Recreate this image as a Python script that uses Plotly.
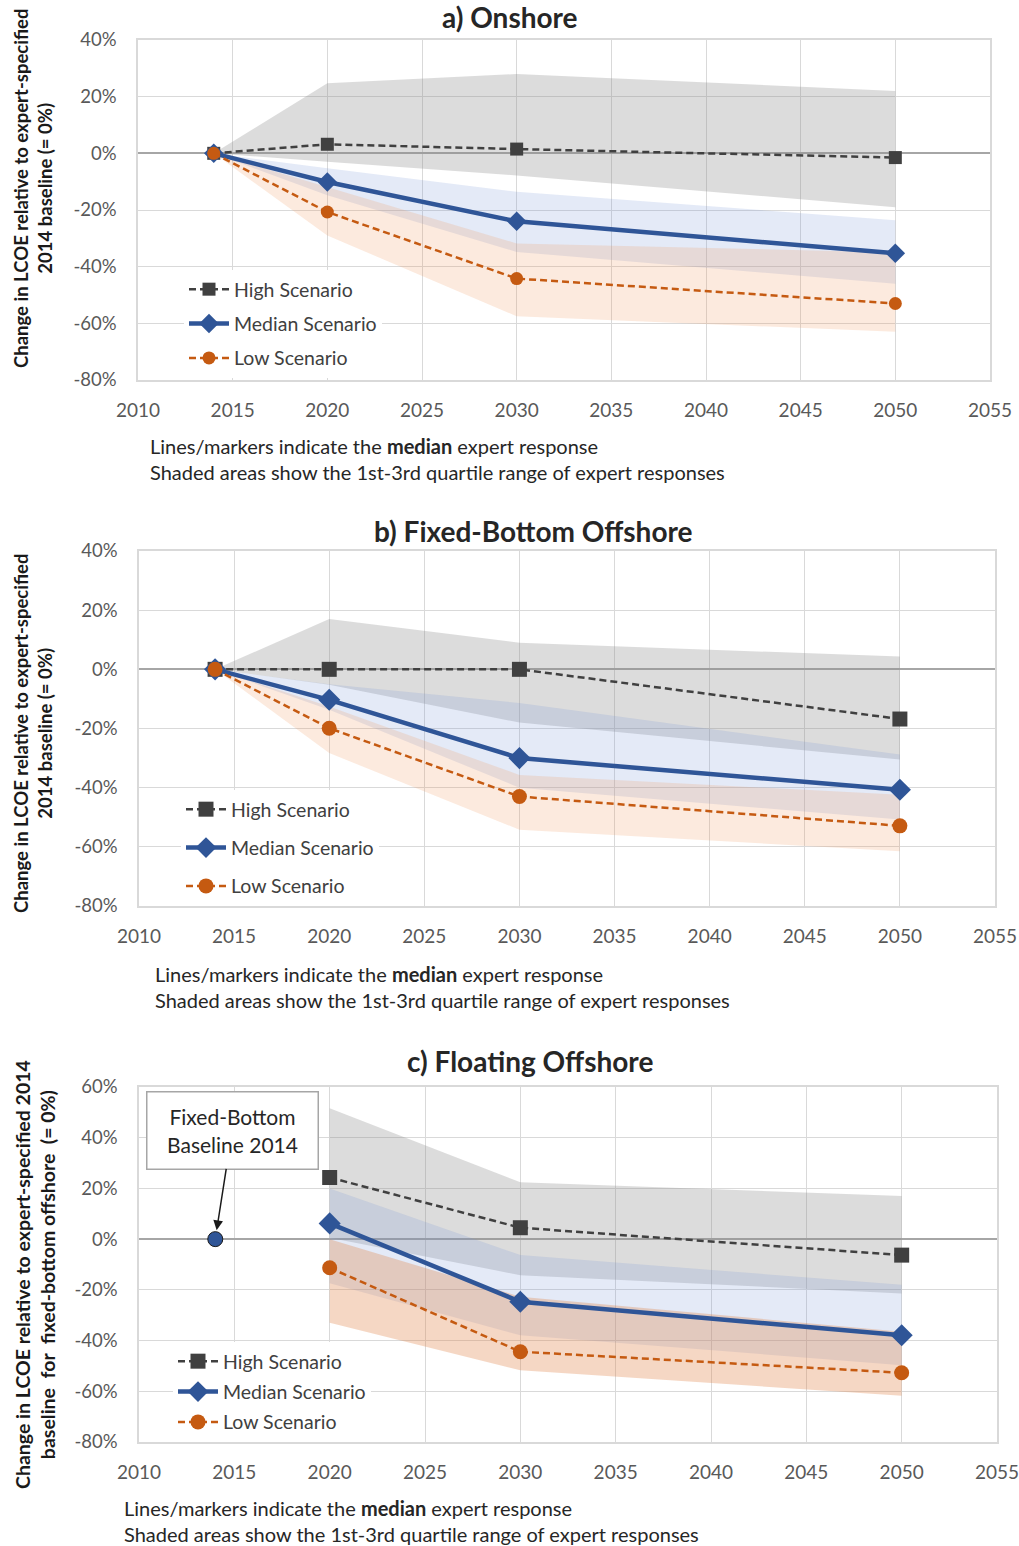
import plotly.graph_objects as go

# ---------------- data ----------------
years = [2014, 2020, 2030, 2050]
years_c = [2020, 2030, 2050]

# a) Onshore
a_high = [0, 3.2, 1.5, -1.5]
a_high_q3 = [0, 24.7, 28.0, 22.0]
a_high_q1 = [0, -3.0, -7.8, -19.0]
a_med = [0, -10.1, -24.0, -35.3]
a_med_q3 = [0, -5.3, -13.6, -23.6]
a_med_q1 = [0, -14.8, -34.8, -46.0]
a_low = [0, -20.7, -44.2, -53.0]
a_low_q3 = [0, -11.9, -31.8, -35.0]
a_low_q1 = [0, -29.0, -57.5, -63.0]

# b) Fixed-Bottom Offshore
b_high = [0, 0, 0, -16.8]
b_high_q3 = [0, 17.0, 9.0, 4.3]
b_high_q1 = [0, -5.2, -18.0, -30.5]
b_med = [0, -10.3, -30.0, -40.7]
b_med_q3 = [0, -5.0, -11.4, -28.8]
b_med_q1 = [0, -13.7, -40.0, -50.8]
b_low = [0, -19.9, -43.0, -52.9]
b_low_q3 = [0, -12.6, -35.7, -42.4]
b_low_q1 = [0, -28.3, -54.2, -61.5]

# c) Floating Offshore
c_base_year = [2014]
c_base_val = [0]
c_high = [24.3, 4.5, -6.3]
c_high_q3 = [51.6, 22.4, 17.0]
c_high_q1 = [0.5, -14.2, -21.4]
c_med = [6.2, -24.7, -37.9]
c_med_q3 = [20.0, -6.3, -18.0]
c_med_q1 = [-17.4, -37.9, -49.7]
c_low = [-11.3, -44.4, -52.7]
c_low_q3 = [0.0, -22.7, -36.5]
c_low_q1 = [-33.0, -51.7, -61.8]

x_ticks = [2010, 2015, 2020, 2025, 2030, 2035, 2040, 2045, 2050, 2055]
y_ticks_ab = [40, 20, 0, -20, -40, -60, -80]
y_ticks_c = [60, 40, 20, 0, -20, -40, -60, -80]

titles = ["a) Onshore", "b) Fixed-Bottom Offshore", "c) Floating Offshore"]
ytitle_ab = "Change in LCOE relative to expert-specified<br>2014 baseline (= 0%)"
ytitle_c = "Change in LCOE relative to expert-specified 2014<br>baseline  for  fixed-bottom offshore  (= 0%)"
note_text = ("Lines/markers indicate the <b>median</b> expert response<br>"
             "Shaded areas show the 1st-3rd quartile range of expert responses")
series_names = ["High Scenario", "Median Scenario", "Low Scenario"]

# ---------------- styling ----------------
W, H = 1019, 1546
FONT = "Lato"
C_HIGH = "#404040"
C_MED = "#2F5597"
C_LOW = "#C55A11"
F_HIGH = "rgba(140,140,140,0.30)"
F_MED = "rgba(120,150,215,0.20)"
F_LOW = "rgba(240,150,90,0.20)"
F_LOW_C = "rgba(225,130,70,0.32)"
DASH = "7px,4px"


def px(x):
    return x / W


def py(y):
    return 1 - y / H


fig = go.Figure()


def band(xs, upper, lower, color, xa, ya):
    fig.add_trace(go.Scatter(
        x=list(xs) + list(xs)[::-1], y=list(upper) + list(lower)[::-1],
        fill="toself", fillcolor=color, line=dict(width=0), mode="lines",
        hoverinfo="skip", showlegend=False, xaxis=xa, yaxis=ya))


def lines(xs, high, med, low, xa, ya, leg, msize):
    fig.add_trace(go.Scatter(
        x=xs, y=high, name=series_names[0], mode="lines+markers",
        line=dict(color=C_HIGH, width=2.5, dash=DASH),
        marker=dict(symbol="square", size=msize, color=C_HIGH),
        xaxis=xa, yaxis=ya, legend=leg, legendgroup=leg + "h"))
    fig.add_trace(go.Scatter(
        x=xs, y=med, name=series_names[1], mode="lines+markers",
        line=dict(color=C_MED, width=4.5),
        marker=dict(symbol="diamond", size=msize + 2, color=C_MED),
        xaxis=xa, yaxis=ya, legend=leg, legendgroup=leg + "m"))
    fig.add_trace(go.Scatter(
        x=xs, y=low, name=series_names[2], mode="lines+markers",
        line=dict(color=C_LOW, width=2.5, dash=DASH),
        marker=dict(symbol="circle", size=msize, color=C_LOW),
        xaxis=xa, yaxis=ya, legend=leg, legendgroup=leg + "l"))


# panel a
band(years, a_high_q3, a_high_q1, F_HIGH, "x", "y")
band(years, a_med_q3, a_med_q1, F_MED, "x", "y")
band(years, a_low_q3, a_low_q1, F_LOW, "x", "y")
lines(years, a_high, a_med, a_low, "x", "y", "legend", 13)

# panel b
band(years, b_high_q3, b_high_q1, F_HIGH, "x2", "y2")
band(years, b_med_q3, b_med_q1, F_MED, "x2", "y2")
band(years, b_low_q3, b_low_q1, F_LOW, "x2", "y2")
lines(years, b_high, b_med, b_low, "x2", "y2", "legend2", 15)

# panel c
band(years_c, c_high_q3, c_high_q1, F_HIGH, "x3", "y3")
band(years_c, c_med_q3, c_med_q1, F_MED, "x3", "y3")
band(years_c, c_low_q3, c_low_q1, F_LOW_C, "x3", "y3")
lines(years_c, c_high, c_med, c_low, "x3", "y3", "legend3", 15)
fig.add_trace(go.Scatter(
    x=c_base_year, y=c_base_val, mode="markers", showlegend=False,
    marker=dict(symbol="circle", size=15, color=C_MED,
                line=dict(color="#1a1a1a", width=1)),
    xaxis="x3", yaxis="y3"))

# ---------------- axes ----------------
panels = [
    dict(x0=138, x1=990, y0=40, y1=380, yt=y_ticks_ab),
    dict(x0=139, x1=995, y0=551, y1=906, yt=y_ticks_ab),
    dict(x0=139, x1=997, y0=1087, y1=1442, yt=y_ticks_c),
]
layout_axes = {}
for i, p in enumerate(panels):
    sfx = "" if i == 0 else str(i + 1)
    layout_axes["xaxis" + sfx] = dict(
        domain=[px(p["x0"]), px(p["x1"])], range=[2010, 2055],
        anchor="y" + sfx, tickvals=x_ticks, ticktext=[str(t) for t in x_ticks],
        showgrid=True, gridcolor="#d9d9d9", gridwidth=1,
        showline=True, linecolor="#d9d9d9", linewidth=1.5, mirror=True,
        zeroline=False, ticks="outside", ticklen=12, tickcolor="rgba(0,0,0,0)",
        automargin=False, ticklabeloverflow="allow",
        tickfont=dict(family=FONT, size=19, color="#595959"))
    layout_axes["yaxis" + sfx] = dict(
        domain=[py(p["y1"]), py(p["y0"])],
        range=[min(p["yt"]), max(p["yt"])], anchor="x" + sfx,
        tickvals=p["yt"], ticktext=["%d%%" % t for t in p["yt"]],
        showgrid=True, gridcolor="#d9d9d9", gridwidth=1,
        showline=True, linecolor="#d9d9d9", linewidth=1.5, mirror=True,
        zeroline=True, zerolinecolor="#a6a6a6", zerolinewidth=1.5,
        ticks="outside", ticklen=16, tickcolor="rgba(0,0,0,0)",
        automargin=False, ticklabeloverflow="allow",
        tickfont=dict(family=FONT, size=18.5, color="#595959"))

# ---------------- annotations ----------------
annotations = []
title_pos = [(510, 17), (533, 531), (530, 1061)]
for t, (tx, ty) in zip(titles, title_pos):
    annotations.append(dict(
        text="<b>%s</b>" % t, x=px(tx), y=py(ty), xref="paper", yref="paper",
        showarrow=False, xanchor="center", yanchor="middle",
        font=dict(family=FONT, size=28, color="#262626")))

ytitle_pos = [(33, 189, ytitle_ab, 18.5), (33, 734, ytitle_ab, 18.5),
              (35, 1275, ytitle_c, 19.5)]
for (tx, ty, txt, fs) in ytitle_pos:
    annotations.append(dict(
        text="<b>%s</b>" % txt, x=px(tx), y=py(ty), xref="paper", yref="paper",
        showarrow=False, xanchor="center", yanchor="middle", textangle=-90,
        font=dict(family=FONT, size=fs, color="#1a1a1a")))

note_pos = [(148, 459), (153, 987), (122, 1521)]
for (tx, ty) in note_pos:
    annotations.append(dict(
        text=note_text, x=px(tx), y=py(ty), xref="paper", yref="paper",
        showarrow=False, xanchor="left", yanchor="middle", align="left",
        font=dict(family=FONT, size=20, color="#262626")))

annotations.append(dict(
    text="Fixed-Bottom<br>Baseline 2014", x=2014, y=0, xref="x3", yref="y3",
    ax=17, ay=-109, showarrow=True, arrowhead=2, arrowsize=1.3,
    arrowwidth=1.5, arrowcolor="#1a1a1a", standoff=9,
    width=150, height=56, borderpad=10,
    bordercolor="#a6a6a6", borderwidth=1.5, bgcolor="white",
    font=dict(family=FONT, size=21, color="#262626")))

legend_base = dict(bgcolor="white", borderwidth=0, xanchor="left", yanchor="top",
                   font=dict(family=FONT, size=19.5, color="#404040"),
                   tracegroupgap=6, itemwidth=40)

fig.update_layout(
    width=W, height=H, margin=dict(l=0, r=0, t=0, b=0),
    paper_bgcolor="white", plot_bgcolor="white",
    showlegend=True,
    legend=dict(legend_base, x=px(184), y=py(270)),
    legend2=dict(legend_base, x=px(181), y=py(790), tracegroupgap=10),
    legend3=dict(legend_base, x=px(173), y=py(1342), tracegroupgap=2),
    annotations=annotations,
    **layout_axes)

fig.write_html(
    "out.html",
    config={"displayModeBar": False},
    post_script="document.body.style.margin='0';"
                "document.body.style.overflow='hidden';")
